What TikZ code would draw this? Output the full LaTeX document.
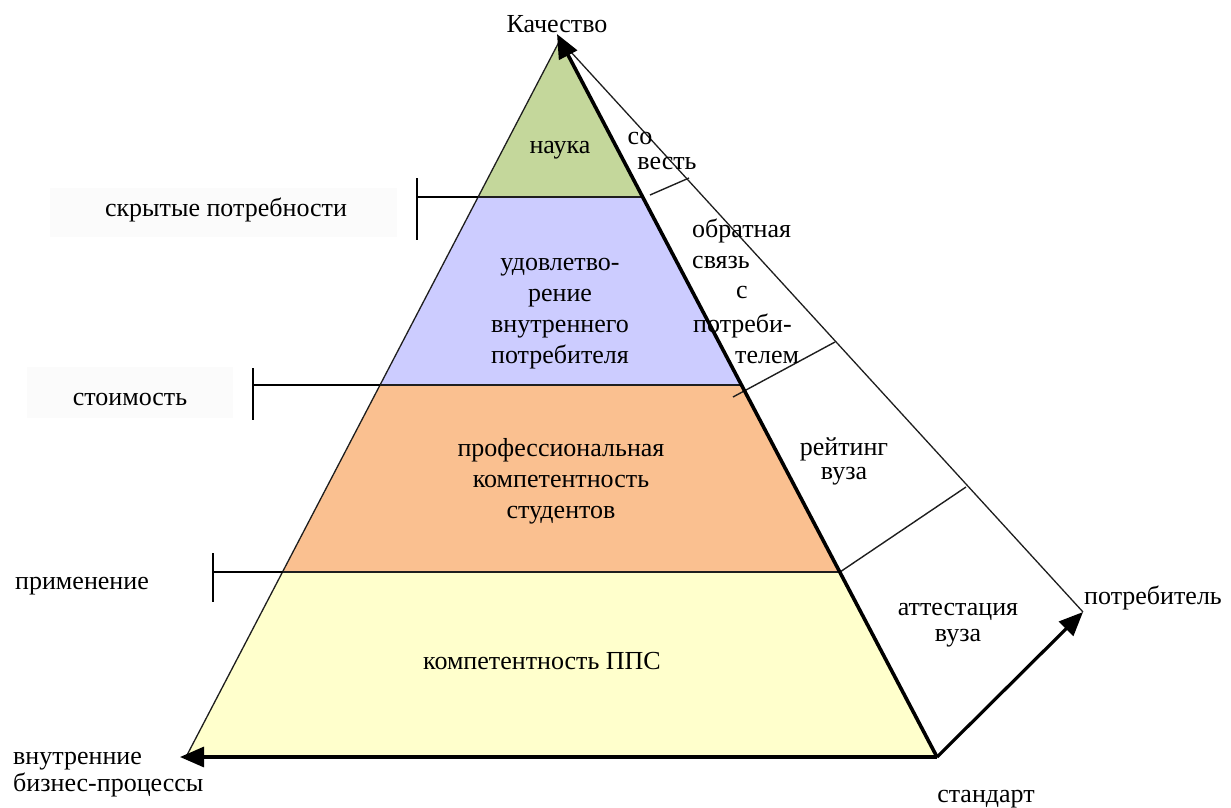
\documentclass[tikz,border=0pt]{standalone}
\usepackage{fontspec}
\setmainfont{Liberation Serif}
\usetikzlibrary{arrows.meta,calc}
\definecolor{cNauka}{RGB}{196,215,155}
\definecolor{cUdov}{RGB}{204,204,255}
\definecolor{cProf}{RGB}{250,192,144}
\definecolor{cPPS}{RGB}{255,255,204}
\definecolor{cLine}{RGB}{30,30,30}
\tikzset{
  lbl/.style={font=\fontsize{26}{31}\selectfont, inner sep=0pt, anchor=base},
  lblL/.style={lbl, anchor=base west},
  edgethin/.style={draw=cLine, line width=1.3pt},
  boundary/.style={draw=cLine, line width=2.2pt},
  tickline/.style={draw=black, line width=1.5pt},
  crossline/.style={draw=cLine, line width=1.4pt},
  bigarrow/.style={draw=black, line width=3.2pt, -{Triangle[length=24pt,width=20pt]}},
  faintbox/.style={fill=black!1.5, draw=none}
}
\begin{document}
\begin{tikzpicture}[x=1pt,y=-1pt]
\useasboundingbox (0,0) rectangle (1231,807);
% faint label backgrounds
\fill[faintbox] (50,188) rectangle (397,237);
\fill[faintbox] (27,367) rectangle (233,418);
% key points
\coordinate (A) at (560,40);
\coordinate (Atip) at (557,34);
\coordinate (BL) at (186,757);
\coordinate (BLtip) at (180,757);
\coordinate (BR) at (937,757);
\coordinate (P) at (1083,612);
\coordinate (L1) at (478.1,197);
\coordinate (R1) at (642.5,197);
\coordinate (L2) at (380.0,385);
\coordinate (R2) at (741.4,385);
\coordinate (L3) at (282.5,572);
\coordinate (R3) at (839.7,572);
% layers
\fill[cNauka] (A) -- (R1) -- (L1) -- cycle;
\fill[cUdov] (L1) -- (R1) -- (R2) -- (L2) -- cycle;
\fill[cProf] (L2) -- (R2) -- (R3) -- (L3) -- cycle;
\fill[cPPS] (L3) -- (R3) -- (BR) -- (BL) -- cycle;
% left edge
\draw[edgethin] (A) -- (BL);
% tick marks
\coordinate (T1) at (417,197);
\coordinate (T1a) at (417,178);
\coordinate (T1b) at (417,240);
\coordinate (T2) at (253,385);
\coordinate (T2a) at (253,368);
\coordinate (T2b) at (253,420);
\coordinate (T3) at (213,572);
\coordinate (T3a) at (213,553);
\coordinate (T3b) at (213,602);
\draw[tickline] (T1) -- (L1);
\draw[tickline] (T1a) -- (T1b);
\draw[tickline] (T2) -- (L2);
\draw[tickline] (T2a) -- (T2b);
\draw[tickline] (T3) -- (L3);
\draw[tickline] (T3a) -- (T3b);
% layer boundaries
\draw[boundary] (L1) -- (R1);
\draw[boundary] (L2) -- (R2);
\draw[boundary] (L3) -- (R3);
% right face
\draw[edgethin] (A) -- (P);
\coordinate (C1a) at (650,195);
\coordinate (C1b) at (689,178);
\coordinate (C2a) at (733,397);
\coordinate (C2b) at (835,342);
\coordinate (C3a) at (840,572);
\coordinate (C3b) at (966,487);
\draw[crossline] (C1a) -- (C1b);
\draw[crossline] (C2a) -- (C2b);
\draw[crossline] (C3a) -- (C3b);
% axes arrows
\draw[bigarrow] (BR) -- (BLtip);
\draw[bigarrow] (BR) -- (P);
\draw[bigarrow, line width=3.6pt] (BR) -- (Atip);
% labels
\node[lbl] (kach) at (557,32) {Качество};
\node[lbl] (nauka) at (560,153) {наука};
\node[lbl] (skryt) at (226,216) {скрытые потребности};
\node[lbl] (ud1) at (560,270) {удовлетво-};
\node[lbl] (ud2) at (560,301) {рение};
\node[lbl] (ud3) at (560,332) {внутреннего};
\node[lbl] (ud4) at (560,363) {потребителя};
\node[lbl] (stoim) at (130,405) {стоимость};
\node[lbl] (pr1) at (561,456) {профессиональная};
\node[lbl] (pr2) at (561,487) {компетентность};
\node[lbl] (pr3) at (561,518) {студентов};
\node[lbl] (prim) at (82,589) {применение};
\node[lbl] (pps) at (542,669) {компетентность ППС};
\node[lblL] (vn1) at (13,764) {внутренние};
\node[lblL] (vn2) at (13,791) {бизнес-процессы};
\node[lbl] (stand) at (986,802) {стандарт};
\node[lbl] (potr) at (1153,604) {потребитель};
\node[lbl] (att1) at (958,615) {аттестация};
\node[lbl] (att2) at (958,641) {вуза};
\node[lbl] (rt1) at (844,455) {рейтинг};
\node[lbl] (rt2) at (844,479) {вуза};
\node[lbl] (so1) at (640,144) {со};
\node[lbl] (so2) at (667,169) {весть};
\node[lblL] (ob1) at (692,237) {обратная};
\node[lblL] (ob2) at (692,268) {связь};
\node[lbl] (ob3) at (742,298) {с};
\node[lblL] (ob4) at (693,332) {потреби-};
\node[lblL] (ob5) at (735,363) {телем};
\end{tikzpicture}
\end{document}
